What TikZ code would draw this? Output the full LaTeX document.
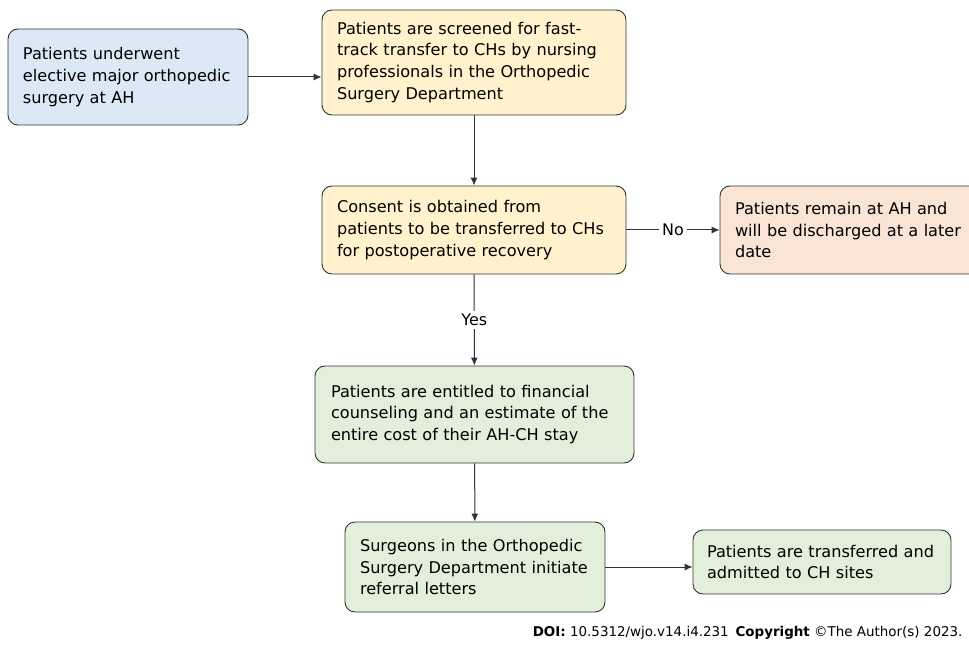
\documentclass[tikz,border=0pt]{standalone}
\usepackage{fontspec}
\setmainfont{DejaVu Sans}
\usetikzlibrary{arrows.meta}
\definecolor{edgegray}{RGB}{51,51,51}
\definecolor{startblue}{RGB}{220,232,245}
\definecolor{stepyellow}{RGB}{255,242,204}
\definecolor{stoporange}{RGB}{250,228,214}
\definecolor{donegreen}{RGB}{226,239,218}
\begin{document}
\begin{tikzpicture}[x=1bp, y=-1bp,
  stage/.style={draw=edgegray, line width=0.9bp, rounded corners=10bp, align=left,
    inner xsep=15bp, inner ysep=0bp, font=\fontsize{16.2}{22}\selectfont},
  >={Latex[length=8bp,width=7bp]}]
\useasboundingbox (0,0) rectangle (969,646);
\node[stage, fill=startblue, text width=210bp, minimum height=96bp] (surgery) at (128,77) {Patients underwent\\elective major orthopedic\\surgery at AH};
\node[stage, fill=stepyellow, text width=274bp, minimum height=105bp] (screen) at (474,62.5) {Patients are screened for fast-\\track transfer to CHs by nursing\\professionals in the Orthopedic\\Surgery Department};
\node[stage, fill=stepyellow, text width=274bp, minimum height=88bp] (consent) at (474,230) {Consent is obtained from\\patients to be transferred to CHs\\for postoperative recovery};
\node[stage, fill=stoporange, text width=240bp, minimum height=88bp] (remain) at (855,230) {Patients remain at AH and\\will be discharged at a later\\date};
\node[stage, fill=donegreen, inner xsep=16bp, text width=287bp, minimum height=97bp] (counsel) at (474.5,414.5) {Patients are entitled to financial\\counseling and an estimate of the\\entire cost of their AH-CH stay};
\node[stage, fill=donegreen, text width=230bp, minimum height=90bp] (referral) at (475,567) {Surgeons in the Orthopedic\\Surgery Department initiate\\referral letters};
\node[stage, fill=donegreen, inner xsep=14bp, text width=230bp, minimum height=64bp] (admit) at (822,562) {Patients are transferred and\\admitted to CH sites};
\draw[->, edgegray, line width=1bp] (surgery) -- (surgery -| screen.west);
\draw[->, edgegray, line width=1bp] (screen) -- (consent);
\draw[->, edgegray, line width=1bp] (consent) -- node[fill=white, text=black, font=\fontsize{16}{22}\selectfont] (no) {No} (remain);
\draw[->, edgegray, line width=1bp] (consent) -- node[fill=white, text=black, font=\fontsize{16}{22}\selectfont] (yes) {Yes} (counsel);
\draw[->, edgegray, line width=1bp] (counsel) -- (referral);
\draw[->, edgegray, line width=1bp] (referral) -- (referral -| admit.west);
\node[anchor=east, font=\fontsize{13.5}{16}\selectfont] (doi) at (966,633) {\textbf{DOI:} 10.5312/wjo.v14.i4.231\enspace\textbf{Copyright} ©The Author(s) 2023.};
\end{tikzpicture}
\end{document}
